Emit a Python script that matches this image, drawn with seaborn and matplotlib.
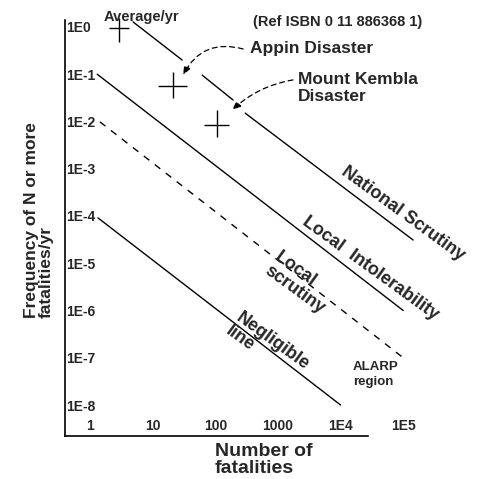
import matplotlib
matplotlib.use("Agg")
import matplotlib.pyplot as plt
import seaborn as sns

# Lineas de criterio (extremos)
national_N = [[4.86, 29.5], [61.5, 192], [300, 1.44e5]]
national_F = [[1.28, 0.2], [0.096, 0.0285], [0.015, 3.1e-5]]
intol_N = [1.3, 1e5]
intol_F = [0.1, 1e-6]
alarp_N = [1.44, 1e5]
alarp_F = [0.0098, 1e-7]
neglig_N = [1.34, 1e4]
neglig_F = [9.1e-5, 1e-8]

# Desastres historicos (centro y extremos de las cruces)
event_names = ["Average/yr", "Appin", "Mount Kembla"]
event_N = [2.9, 21, 107]
event_F = [0.95, 0.056, 0.0085]
event_N_lo = [2.0, 12.2, 66]
event_N_hi = [4.2, 35.5, 166]
event_F_lo = [0.48, 0.031, 0.0047]
event_F_hi = [1.55, 0.11, 0.0175]

x_ticks = [1, 10, 100, 1000, 1e4, 1e5]
x_labels = ["1", "10", "100", "1000", "1E4", "1E5"]
y_ticks = [1, 1e-1, 1e-2, 1e-3, 1e-4, 1e-5, 1e-6, 1e-7, 1e-8]
y_labels = ["1E0", "1E-1", "1E-2", "1E-3", "1E-4", "1E-5", "1E-6", "1E-7", "1E-8"]

sns.set_style("white")
plt.rcParams["font.family"] = ["Liberation Sans", "DejaVu Sans"]

fig = plt.figure(figsize=(4.79, 4.79), dpi=100)
ax = fig.add_axes([65 / 479, 43 / 479, 414 / 479, 436 / 479])
ax.set_xscale("log")
ax.set_yscale("log")

for n, f in zip(national_N, national_F):
    sns.lineplot(x=n, y=f, ax=ax, color="black", lw=1, estimator=None, sort=False)
sns.lineplot(x=intol_N, y=intol_F, ax=ax, color="black", lw=1, estimator=None, sort=False)
sns.lineplot(x=alarp_N, y=alarp_F, ax=ax, color="black", lw=1,
             linestyle=(0, (5, 5)), estimator=None, sort=False)
sns.lineplot(x=neglig_N, y=neglig_F, ax=ax, color="black", lw=1, estimator=None, sort=False)

xerr = [[c - lo for c, lo in zip(event_N, event_N_lo)],
        [hi - c for c, hi in zip(event_N, event_N_hi)]]
yerr = [[c - lo for c, lo in zip(event_F, event_F_lo)],
        [hi - c for c, hi in zip(event_F, event_F_hi)]]
ax.errorbar(event_N, event_F, xerr=xerr, yerr=yerr, fmt="none",
            ecolor="black", elinewidth=1, capsize=0)

ax.set_xlim(10 ** -0.40, 10 ** 6.21)
ax.set_ylim(10 ** -8.656, 10 ** 0.571)
ax.minorticks_off()
ax.set_xticks(x_ticks)
ax.set_xticklabels(x_labels, fontsize=10, fontweight="bold")
ax.set_yticks(y_ticks)
ax.set_yticklabels(y_labels, fontsize=10, fontweight="bold")
ax.tick_params(axis="y", length=0, pad=-1)
ax.tick_params(axis="x", length=0, pad=-2)
for lbl in ax.get_yticklabels():
    lbl.set_ha("left")
for lbl in ax.get_xticklabels():
    lbl.set_va("bottom")

sns.despine(ax=ax)
ax.spines["left"].set_bounds(10 ** -8.656, 10 ** 0.148)
ax.spines["bottom"].set_bounds(10 ** -0.40, 10 ** 4.44)
for s in ["left", "bottom"]:
    ax.spines[s].set_color("black")
    ax.spines[s].set_linewidth(1.2)

# Textos
ax.text(6.5, 1.63, "Average/yr", ha="center", va="center", fontsize=10.5, fontweight="bold")
ax.text(400, 1.28, "(Ref ISBN 0 11 886368 1)", ha="left", va="center",
        fontsize=10.5, fontweight="bold")
ax.text(360, 0.342, "Appin Disaster", ha="left", va="center", fontsize=12.5, fontweight="bold")
ax.text(2100, 0.0513, "Mount Kembla\nDisaster", ha="left", va="center",
        fontsize=12.5, fontweight="bold", linespacing=1.1)

arrow = dict(arrowstyle="-|>,head_length=0.5,head_width=0.2", color="black",
             lw=0.9, linestyle=(0, (4, 3)), shrinkA=0, shrinkB=0)
ax.annotate("", xy=(30.6, 0.0964), xytext=(278, 0.342),
            arrowprops=dict(arrow, connectionstyle="arc3,rad=0.4"))
ax.annotate("", xy=(186, 0.0175), xytext=(1740, 0.0758),
            arrowprops=dict(arrow, connectionstyle="arc3,rad=0.15"))

rot = -36
ax.text(1e5, 10 ** -3.94, "National Scrutiny", rotation=rot, rotation_mode="anchor",
        ha="center", va="center", fontsize=13, fontweight="bold")
ax.text(10 ** 4.47, 10 ** -5.1, "Local  Intolerability", rotation=rot, rotation_mode="anchor",
        ha="center", va="center", fontsize=13, fontweight="bold")
ax.text(2240, 3.8e-6, "Local\nscrutiny", rotation=rot, rotation_mode="anchor",
        ha="center", va="center", multialignment="left", fontsize=13,
        fontweight="bold", linespacing=1.0)
ax.text(673, 1.6e-7, "Negligible\nline", rotation=rot, rotation_mode="anchor",
        ha="center", va="center", multialignment="left", fontsize=13,
        fontweight="bold", linespacing=1.0)
ax.text(10 ** 4.2, 10 ** -7.35, "ALARP\nregion", ha="left", va="center",
        fontsize=9.5, fontweight="bold", linespacing=1.3)

fig.text(39 / 479, (479 - 318) / 479, "Frequency of N or more\nfatalities/yr",
         rotation=90, ha="center", va="bottom", multialignment="left",
         fontsize=12.5, fontweight="bold", linespacing=1.0)
fig.text(215 / 479, (479 - 460) / 479, "Number of\nfatalities", ha="left", va="center",
         fontsize=14, fontweight="bold", linespacing=1.0)

fig.savefig("out.png", dpi=100, facecolor="white")
